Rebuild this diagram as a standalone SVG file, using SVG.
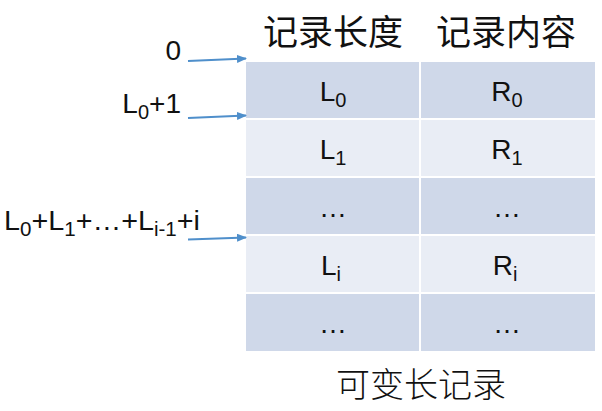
<svg xmlns="http://www.w3.org/2000/svg" width="602" height="411" viewBox="0 0 602 411">
<style>
.cjk{font-family:"Noto Sans CJK SC","Noto Sans",sans-serif;fill:#111}
.lat{font-family:"Liberation Sans","Noto Sans",sans-serif;fill:#111;font-size:28px}
.sub{font-size:20px}
.dark{fill:#CFD8E9}
.light{fill:#E9EDF5}
.arr{stroke:#4F8FCB;stroke-width:2;fill:none;marker-end:url(#ah)}
</style>
<defs>
<marker id="ah" markerWidth="10" markerHeight="8" refX="9" refY="4" orient="auto" markerUnits="userSpaceOnUse">
<path d="M0,0 L10,4 L0,8 Z" fill="#4F8FCB"/>
</marker>
</defs>
<rect width="602" height="411" fill="#fff"/>
<g id="headers">
<text class="cjk" x="333" y="45" font-size="35" text-anchor="middle">记录长度</text>
<text class="cjk" x="506" y="45" font-size="35" text-anchor="middle">记录内容</text>
</g>
<g id="table">
<g id="row0">
<rect class="dark" x="246" y="62" width="173" height="56"/>
<rect class="dark" x="421" y="62" width="174" height="56"/>
<text class="lat" x="333" y="101" text-anchor="middle">L<tspan class="sub" dy="6">0</tspan></text>
<text class="lat" x="507" y="101" text-anchor="middle">R<tspan class="sub" dy="6">0</tspan></text>
</g>
<g id="row1">
<rect class="light" x="246" y="120" width="173" height="56"/>
<rect class="light" x="421" y="120" width="174" height="56"/>
<text class="lat" x="333" y="159" text-anchor="middle">L<tspan class="sub" dy="6">1</tspan></text>
<text class="lat" x="507" y="159" text-anchor="middle">R<tspan class="sub" dy="6">1</tspan></text>
</g>
<g id="row2">
<rect class="dark" x="246" y="178" width="173" height="56"/>
<rect class="dark" x="421" y="178" width="174" height="56"/>
<text class="lat" x="333" y="217" text-anchor="middle">…</text>
<text class="lat" x="507" y="217" text-anchor="middle">…</text>
</g>
<g id="row3">
<rect class="light" x="246" y="236" width="173" height="56"/>
<rect class="light" x="421" y="236" width="174" height="56"/>
<text class="lat" x="331" y="275" text-anchor="middle">L<tspan class="sub" dy="6">i</tspan></text>
<text class="lat" x="505" y="275" text-anchor="middle">R<tspan class="sub" dy="6">i</tspan></text>
</g>
<g id="row4">
<rect class="dark" x="246" y="294" width="173" height="57"/>
<rect class="dark" x="421" y="294" width="174" height="57"/>
<text class="lat" x="333" y="333" text-anchor="middle">…</text>
<text class="lat" x="507" y="333" text-anchor="middle">…</text>
</g>
</g>
<g id="labels">
<text class="lat" x="181" y="60" text-anchor="end">0</text>
<text class="lat" x="181" y="113" text-anchor="end">L<tspan class="sub" dy="6">0</tspan><tspan dy="-6">+1</tspan></text>
<text class="lat" x="4" y="230" textLength="196" lengthAdjust="spacingAndGlyphs">L<tspan class="sub" dy="6">0</tspan><tspan dy="-6">+L</tspan><tspan class="sub" dy="6">1</tspan><tspan dy="-6">+…+L</tspan><tspan class="sub" dy="6">i-1</tspan><tspan dy="-6">+i</tspan></text>
</g>
<g id="connectors">
<line class="arr" x1="188" y1="61" x2="246" y2="58.5"/>
<line class="arr" x1="188" y1="118" x2="246" y2="115.5"/>
<line class="arr" x1="188" y1="239.5" x2="246" y2="237.5"/>
</g>
<g id="caption">
<text class="cjk" x="421" y="397" font-size="34" font-weight="300" text-anchor="middle">可变长记录</text>
</g>
</svg>
